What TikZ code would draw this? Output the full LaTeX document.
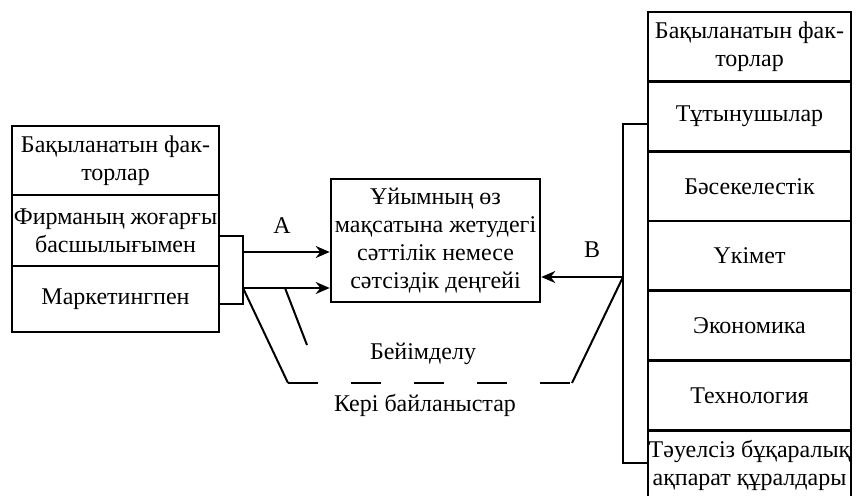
\documentclass[tikz,border=0pt]{standalone}
\usepackage{fontspec}
\setmainfont{Liberation Serif}
\usetikzlibrary{arrows.meta}

\begin{document}
\begin{tikzpicture}[x=0.5pt,y=-0.5pt,
  font=\fontsize{12}{14}\selectfont,
  >={Stealth[length=7pt,width=6pt]},
  caja/.style={draw,line width=1.3pt,inner sep=0pt,align=center,minimum width=#1},
  caja/.default=103.5pt,
  linea/.style={line width=1pt}]
  \useasboundingbox (0,0) rectangle (856,496);

  % Factores de la izquierda
  \node[caja,minimum height=34.5pt] (izq1) at (115.5,160.5) {Бақыланатын фак-\\торлар};
  \node[caja,minimum height=35.5pt] (izq2) at (115.5,230.5) {Фирманың жоғарғы\\басшылығымен};
  \node[caja,minimum height=33pt] (izq3) at (115.5,299) {Маркетингпен};

  % Resultado central
  \node[caja=104.5pt,minimum height=61.5pt] (centro) at (435.5,240.5)
    {Ұйымның өз\\мақсатына жетудегі\\сәттілік немесе\\сәтсіздік деңгейі};

  % Factores de la derecha
  \foreach \t [count=\i from 0] in {{Бақыланатын фак-\\торлар},Тұтынушылар,Бәсекелестік,Үкімет,Экономика,Технология,{Тәуелсіз бұқаралық\\ақпарат құралдары}}
    \node[caja=101.5pt,minimum height=34.85pt] (der\i) at (749.5,{46.85+69.7*\i}) {\t};

  % Corchete izquierdo y flechas A
  \coordinate (ja) at (243,236);
  \coordinate (jb) at (243,304);
  \draw[linea] (izq2.east |- ja) -- (ja) -- (jb) -- (izq3.east |- jb);
  \coordinate (a1) at (243,252);
  \coordinate (a2) at (243,288);
  \draw[linea,->] (a1) -- (centro.west |- a1);
  \draw[linea,->] (a2) -- (centro.west |- a2);

  % Corchete derecho y flecha B
  \coordinate (ra) at (623,124);
  \coordinate (rb) at (623,463);
  \coordinate (rj) at (623,277);
  \draw[linea] (der1.west |- ra) -- (ra) -- (rb) -- (der6.west |- rb);
  \draw[linea,->] (rj) -- (centro.east |- rj);

  % Retroalimentacion
  \coordinate (c1) at (288,383);
  \coordinate (c2) at (572,383);
  \draw[linea] (a2) -- (c1);
  \draw[linea,dash pattern=on 15pt off 16.5pt] (c1) -- (c2);
  \draw[linea] (c2) -- (rj);

  % Adaptacion
  \coordinate (d1) at (285,288);
  \coordinate (d2) at (307,345);
  \draw[linea] (d1) -- (d2);

  % Etiquetas
  \node (etA) at (282,226) {A};
  \node (etB) at (592,250) {B};
  \node (adap) at (423,354) {Бейімделу};
  \node (retro) at (425,405) {Кері байланыстар};
\end{tikzpicture}
\end{document}
